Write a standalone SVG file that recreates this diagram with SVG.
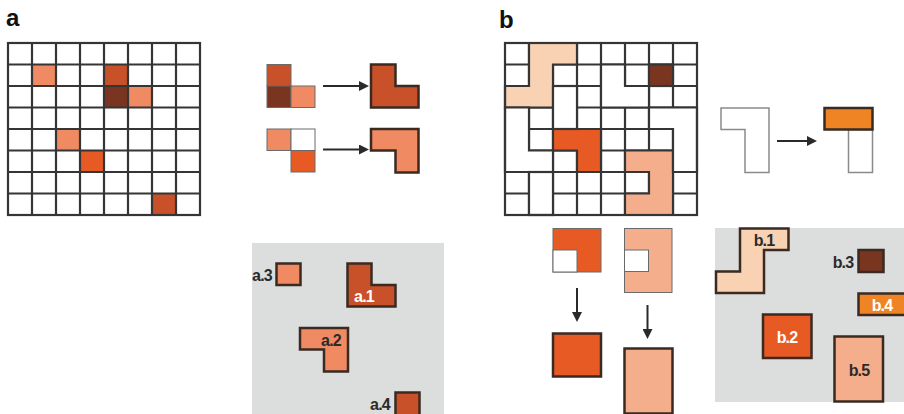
<svg xmlns="http://www.w3.org/2000/svg" width="904" height="414" viewBox="0 0 904 414">
  <style>
    .grid { fill: none; stroke: #353535; stroke-width: 2.2; }
    .pc { stroke: #353535; stroke-width: 2.2; stroke-linejoin: miter; }
    .thin { stroke: #6a6a6a; stroke-width: 1; }
    .res { stroke: #3a2a22; stroke-width: 2.5; stroke-linejoin: miter; }
    .ghost { fill: #ffffff; stroke: #8a8a8a; stroke-width: 1.5; }
    .salmon { fill: #EF8A62; }
    .red { fill: #C9512A; }
    .brown { fill: #7A3520; }
    .orange { fill: #E75A24; }
    .peach { fill: #F9D2B3; }
    .peach2 { fill: #F5AE8C; }
    .amber { fill: #EE8424; }
    .white { fill: #ffffff; }
    .bg { fill: #DCDDDD; }
    .conn { stroke: #2a2a2a; stroke-width: 2; fill: none; }
    .head { fill: #2a2a2a; }
    .title { font-family: "Liberation Sans", Arial, sans-serif; font-weight: bold; font-size: 24px; fill: #111; }
    .lbl { font-family: "Liberation Sans", Arial, sans-serif; font-weight: bold; font-size: 16px; letter-spacing: -0.8px; text-anchor: middle; fill: #2b2b2b; }
    .lw { fill: #ffffff; }
  </style>
  <defs>
    <marker id="arr" viewBox="0 0 10 10" markerUnits="userSpaceOnUse" markerWidth="10" markerHeight="10" refX="1" refY="5" orient="auto">
      <path d="M0,0 L10,5 L0,10 z" class="head"/>
    </marker>
  </defs>

  <rect width="904" height="414" fill="#ffffff"/>

  <!-- Panel labels -->
  <text class="title" x="6" y="26">a</text>
  <text class="title" x="499" y="28">b</text>

  <!-- Panel a grid -->
  <g id="grid-a">
    <rect x="8" y="43" width="192" height="172" class="white"/>
    <rect x="32" y="64.5" width="24" height="21.5" class="salmon"/>
    <rect x="104" y="64.5" width="24" height="21.5" class="red"/>
    <rect x="104" y="86" width="24" height="21.5" class="brown"/>
    <rect x="128" y="86" width="24" height="21.5" class="salmon"/>
    <rect x="56" y="129" width="24" height="21.5" class="salmon"/>
    <rect x="80" y="150.5" width="24" height="21.5" class="orange"/>
    <rect x="152" y="193.5" width="24" height="21.5" class="red"/>
    <path class="grid" d="M32,43V215M56,43V215M80,43V215M104,43V215M128,43V215M152,43V215M176,43V215M8,64.5H200M8,86H200M8,107.5H200M8,129H200M8,150.5H200M8,172H200M8,193.5H200"/>
    <rect x="8" y="43" width="192" height="172" class="grid"/>
  </g>

  <!-- Panel a merge examples -->
  <g id="a-merge-1">
    <rect x="267" y="64.5" width="24" height="21.5" class="red thin"/>
    <rect x="267" y="86" width="24" height="21.5" class="brown thin"/>
    <rect x="291" y="86" width="24" height="21.5" class="salmon thin"/>
  </g>
  <g id="a-merge-1-result">
    <polygon class="red res" points="371,64.5 395.5,64.5 395.5,86 418.5,86 418.5,107.5 371,107.5"/>
  </g>
  <g id="a-merge-2">
    <rect x="267" y="129" width="24" height="21.5" class="salmon thin"/>
    <rect x="291" y="129" width="24" height="21.5" class="white thin"/>
    <rect x="291" y="150.5" width="24" height="21.5" class="orange thin"/>
  </g>
  <g id="a-merge-2-result">
    <polygon class="salmon res" points="371,129 418.5,129 418.5,172.5 395.5,172.5 395.5,150.5 371,150.5"/>
  </g>

  <!-- Panel a result box -->
  <g id="a-box">
    <rect x="252" y="243" width="192" height="171" class="bg"/>
  </g>
  <g id="a3">
    <rect x="276.5" y="263.5" width="24" height="21.5" class="salmon res"/>
    <text class="lbl" x="262" y="280.5">a.3</text>
  </g>
  <g id="a1">
    <polygon class="red res" points="347.5,263.5 371.5,263.5 371.5,285 395.5,285 395.5,306.5 347.5,306.5"/>
    <text class="lbl lw" x="364" y="301.5">a.1</text>
  </g>
  <g id="a2">
    <polygon class="salmon res" points="300,328 348,328 348,371.5 324,371.5 324,349.5 300,349.5"/>
    <text class="lbl" x="331" y="345.5">a.2</text>
  </g>
  <g id="a4">
    <rect x="395.5" y="392.5" width="24" height="23" class="red res"/>
    <text class="lbl" x="380" y="409.5">a.4</text>
  </g>

  <!-- Panel b grid -->
  <g id="grid-b">
    <rect x="505" y="43" width="192" height="172" class="white"/>
    <path class="grid" d="M529,43V215M553,43V215M577,43V215M601,43V215M625,43V215M649,43V215M673,43V215M505,64.5H697M505,86H697M505,107.5H697M505,129H697M505,150.5H697M505,172H697M505,193.5H697"/>
    <polygon class="peach pc" points="529,43 577,43 577,64.5 553,64.5 553,107.5 505,107.5 505,86 529,86"/>
    <rect x="649" y="64.5" width="24" height="21.5" class="brown pc"/>
    <polygon class="orange pc" points="553,129 601,129 601,172 577,172 577,150.5 553,150.5"/>
    <polygon class="peach2 pc" points="625,150.5 673,150.5 673,215 625,215 625,193.5 649,193.5 649,172 625,172"/>
    <polygon class="white pc" points="505,107.5 529,107.5 529,150.5 553,150.5 553,172 505,172"/>
    <rect x="553" y="86" width="24" height="43" class="white pc"/>
    <polygon class="white pc" points="601,64.5 625,64.5 625,86 649,86 649,107.5 601,107.5"/>
    <polygon class="white pc" points="649,107.5 697,107.5 697,172 673,172 673,129 649,129"/>
    <rect x="529" y="172" width="24" height="43" class="white pc"/>
    <rect x="505" y="43" width="192" height="172" class="grid"/>
  </g>

  <!-- Panel b top-right example -->
  <g id="b-split">
    <polygon class="ghost" points="721,108 769,108 769,172.5 745,172.5 745,129.5 721,129.5"/>
  </g>
  <g id="b-split-result">
    <rect x="848.5" y="129.5" width="24" height="43" class="ghost"/>
    <rect x="824.5" y="108" width="48" height="21.5" class="amber res"/>
  </g>

  <!-- Panel b bottom examples -->
  <g id="b-orange-piece">
    <rect x="553" y="228.5" width="48" height="43.5" class="orange thin"/>
    <rect x="553" y="250" width="24" height="22" class="white thin"/>
  </g>
  <g id="b-orange-result">
    <rect x="553" y="333.5" width="48" height="43" class="orange res"/>
  </g>
  <g id="b-peach-piece">
    <rect x="624.5" y="228.5" width="47.5" height="64" class="peach2 thin"/>
    <rect x="624.5" y="250" width="24" height="21.5" class="white thin"/>
  </g>
  <g id="b-peach-result">
    <rect x="624.5" y="348.5" width="48" height="65" class="peach2 res"/>
  </g>

  <!-- Panel b result box -->
  <g id="b-box">
    <rect x="715" y="228" width="189" height="174" class="bg"/>
  </g>
  <g id="b1">
    <polygon class="peach res" points="740,228.5 788.5,228.5 788.5,250 764,250 764,293 716,293 716,271.5 740,271.5"/>
    <text class="lbl" x="764" y="245.5">b.1</text>
  </g>
  <g id="b3">
    <rect x="858.5" y="250" width="25" height="22" class="brown res"/>
    <text class="lbl" x="843" y="267.5">b.3</text>
  </g>
  <g id="b4">
    <rect x="858.5" y="293.5" width="50" height="21.5" class="amber res"/>
    <text class="lbl lw" x="882" y="310.5">b.4</text>
  </g>
  <g id="b2">
    <rect x="763" y="314.5" width="48.5" height="43.5" class="orange res"/>
    <text class="lbl lw" x="787" y="342.5">b.2</text>
  </g>
  <g id="b5">
    <rect x="834.5" y="336.5" width="48.5" height="65" class="peach2 res"/>
    <text class="lbl" x="859" y="375.5">b.5</text>
  </g>

  <!-- Connectors -->
  <g id="connectors">
    <line class="conn" x1="323" y1="86" x2="360" y2="86" marker-end="url(#arr)"/>
    <line class="conn" x1="323" y1="149.5" x2="360" y2="149.5" marker-end="url(#arr)"/>
    <line class="conn" x1="777" y1="141" x2="808" y2="141" marker-end="url(#arr)"/>
    <line class="conn" x1="577" y1="288" x2="577" y2="313" marker-end="url(#arr)"/>
    <line class="conn" x1="647.5" y1="305" x2="647.5" y2="330" marker-end="url(#arr)"/>
  </g>
</svg>
